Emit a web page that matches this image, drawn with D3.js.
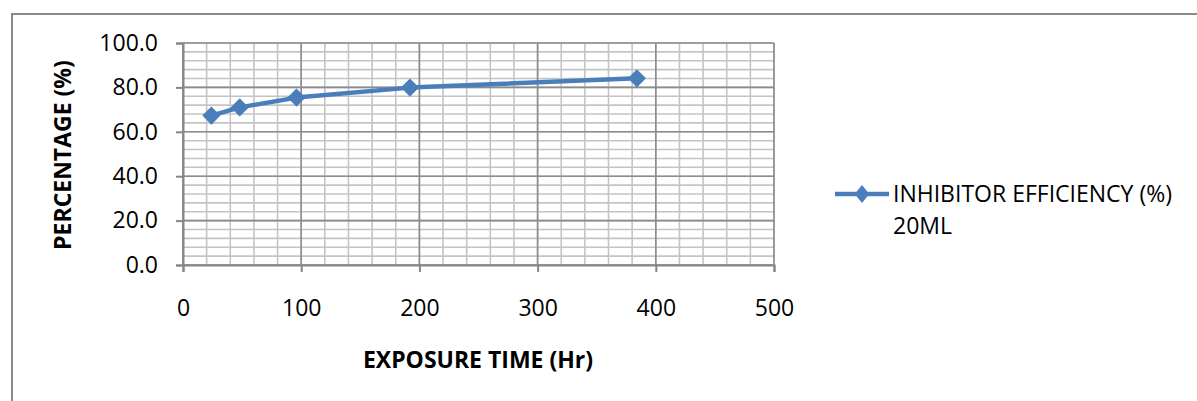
<!DOCTYPE html>
<html>
<head>
<meta charset="utf-8">
<script src="https://cdn.jsdelivr.net/npm/d3@7"></script>
<style>
  body { margin: 0; background: #fff; }
  svg { display: block; font-family: "Open Sans", sans-serif; }
</style>
</head>
<body>
<script>
// exposure time (hours) and inhibitor efficiency (%) for 20ML
var hours = [24, 48, 96, 192, 384];
var efficiency = [67.3, 71.0, 75.4, 79.9, 84.1];
var seriesName = ["INHIBITOR EFFICIENCY (%)", "20ML"];
var xTicks = [0, 100, 200, 300, 400, 500];
var yTicks = [0, 20, 40, 60, 80, 100];

var w = 1197, h = 401;
var svg = d3.select("body").append("svg")
            .attr("width", w)
            .attr("height", h);

// chart frame (only left/top visible in the picture)
svg.append("rect")
   .attr("x", 12).attr("y", 14)
   .attr("width", w + 20).attr("height", h + 20)
   .attr("fill", "#fff")
   .attr("stroke", "#898989")
   .attr("stroke-width", 2);

var x = d3.scaleLinear().domain([0, 500]).range([183, 774]);
var y = d3.scaleLinear().domain([0, 100]).range([265, 43]);

var g = svg.append("g");

// minor grid
g.selectAll("line.vminor")
 .data(d3.range(0, 501, 20))
 .enter().append("line")
 .attr("x1", function(d) { return x(d); })
 .attr("x2", function(d) { return x(d); })
 .attr("y1", y(0)).attr("y2", y(100))
 .attr("stroke", "#c4c4c4").attr("stroke-width", 1.6);

g.selectAll("line.hminor")
 .data(d3.range(0, 101, 4))
 .enter().append("line")
 .attr("y1", function(d) { return y(d); })
 .attr("y2", function(d) { return y(d); })
 .attr("x1", x(0)).attr("x2", x(500))
 .attr("stroke", "#c4c4c4").attr("stroke-width", 1.6);

// major grid
g.selectAll("line.vmajor")
 .data(xTicks)
 .enter().append("line")
 .attr("x1", function(d) { return x(d); })
 .attr("x2", function(d) { return x(d); })
 .attr("y1", y(0)).attr("y2", y(100))
 .attr("stroke", "#8c8c8c").attr("stroke-width", 1.6);

g.selectAll("line.hmajor")
 .data(yTicks)
 .enter().append("line")
 .attr("y1", function(d) { return y(d); })
 .attr("y2", function(d) { return y(d); })
 .attr("x1", x(0)).attr("x2", x(500))
 .attr("stroke", "#8c8c8c").attr("stroke-width", 1.6);

// axes
var yAxis = d3.axisLeft(y).tickValues(yTicks).tickSize(7).tickPadding(18)
              .tickFormat(d3.format(".1f"));
var xAxis = d3.axisBottom(x).tickValues(xTicks).tickSize(7).tickPadding(28);

var ya = svg.append("g").attr("transform", "translate(" + x(0) + ",0)").call(yAxis);
var xa = svg.append("g").attr("transform", "translate(0," + y(0) + ")").call(xAxis);

[ya, xa].forEach(function(a) {
  a.select(".domain").attr("stroke", "#868686").attr("stroke-width", 2);
  a.selectAll(".tick line").attr("stroke", "#868686").attr("stroke-width", 2);
  a.selectAll("text").attr("font-size", 23).attr("fill", "#000")
   .attr("font-family", "Open Sans");
});

// axis titles
svg.append("text")
   .attr("transform", "translate(71,155) rotate(-90)")
   .attr("text-anchor", "middle")
   .attr("font-size", 23).attr("font-weight", "bold")
   .text("PERCENTAGE (%)");

svg.append("text")
   .attr("x", 478).attr("y", 368)
   .attr("text-anchor", "middle")
   .attr("font-size", 23).attr("font-weight", "bold")
   .text("EXPOSURE TIME (Hr)");

// series
var blue = "#4a7ebb";
var pts = hours.map(function(d, i) { return [d, efficiency[i]]; });

svg.append("path")
   .datum(pts)
   .attr("fill", "none")
   .attr("stroke", blue)
   .attr("stroke-width", 4.5)
   .attr("stroke-linejoin", "round")
   .attr("d", d3.line()
     .x(function(d) { return x(d[0]); })
     .y(function(d) { return y(d[1]); }));

var marker = d3.symbol().type(d3.symbolSquare).size(165);

svg.selectAll("path.pt")
   .data(pts)
   .enter().append("path")
   .attr("class", "pt")
   .attr("transform", function(d) { return "translate(" + x(d[0]) + "," + y(d[1]) + ") rotate(45)"; })
   .attr("d", marker)
   .attr("fill", blue);

// legend
var lg = svg.append("g").attr("transform", "translate(835,194)");
lg.append("line").attr("x1", 0).attr("x2", 54).attr("y1", 0).attr("y2", 0)
  .attr("stroke", blue).attr("stroke-width", 4.5);
lg.append("path").attr("d", marker).attr("fill", blue)
  .attr("transform", "translate(27,0) scale(0.8,1) rotate(45)");
lg.selectAll("text")
  .data(seriesName)
  .enter().append("text")
  .attr("x", 58)
  .attr("y", function(d, i) { return 8 + i * 31.5; })
  .attr("font-size", 23)
  .text(function(d) { return d; });
</script>
</body>
</html>
